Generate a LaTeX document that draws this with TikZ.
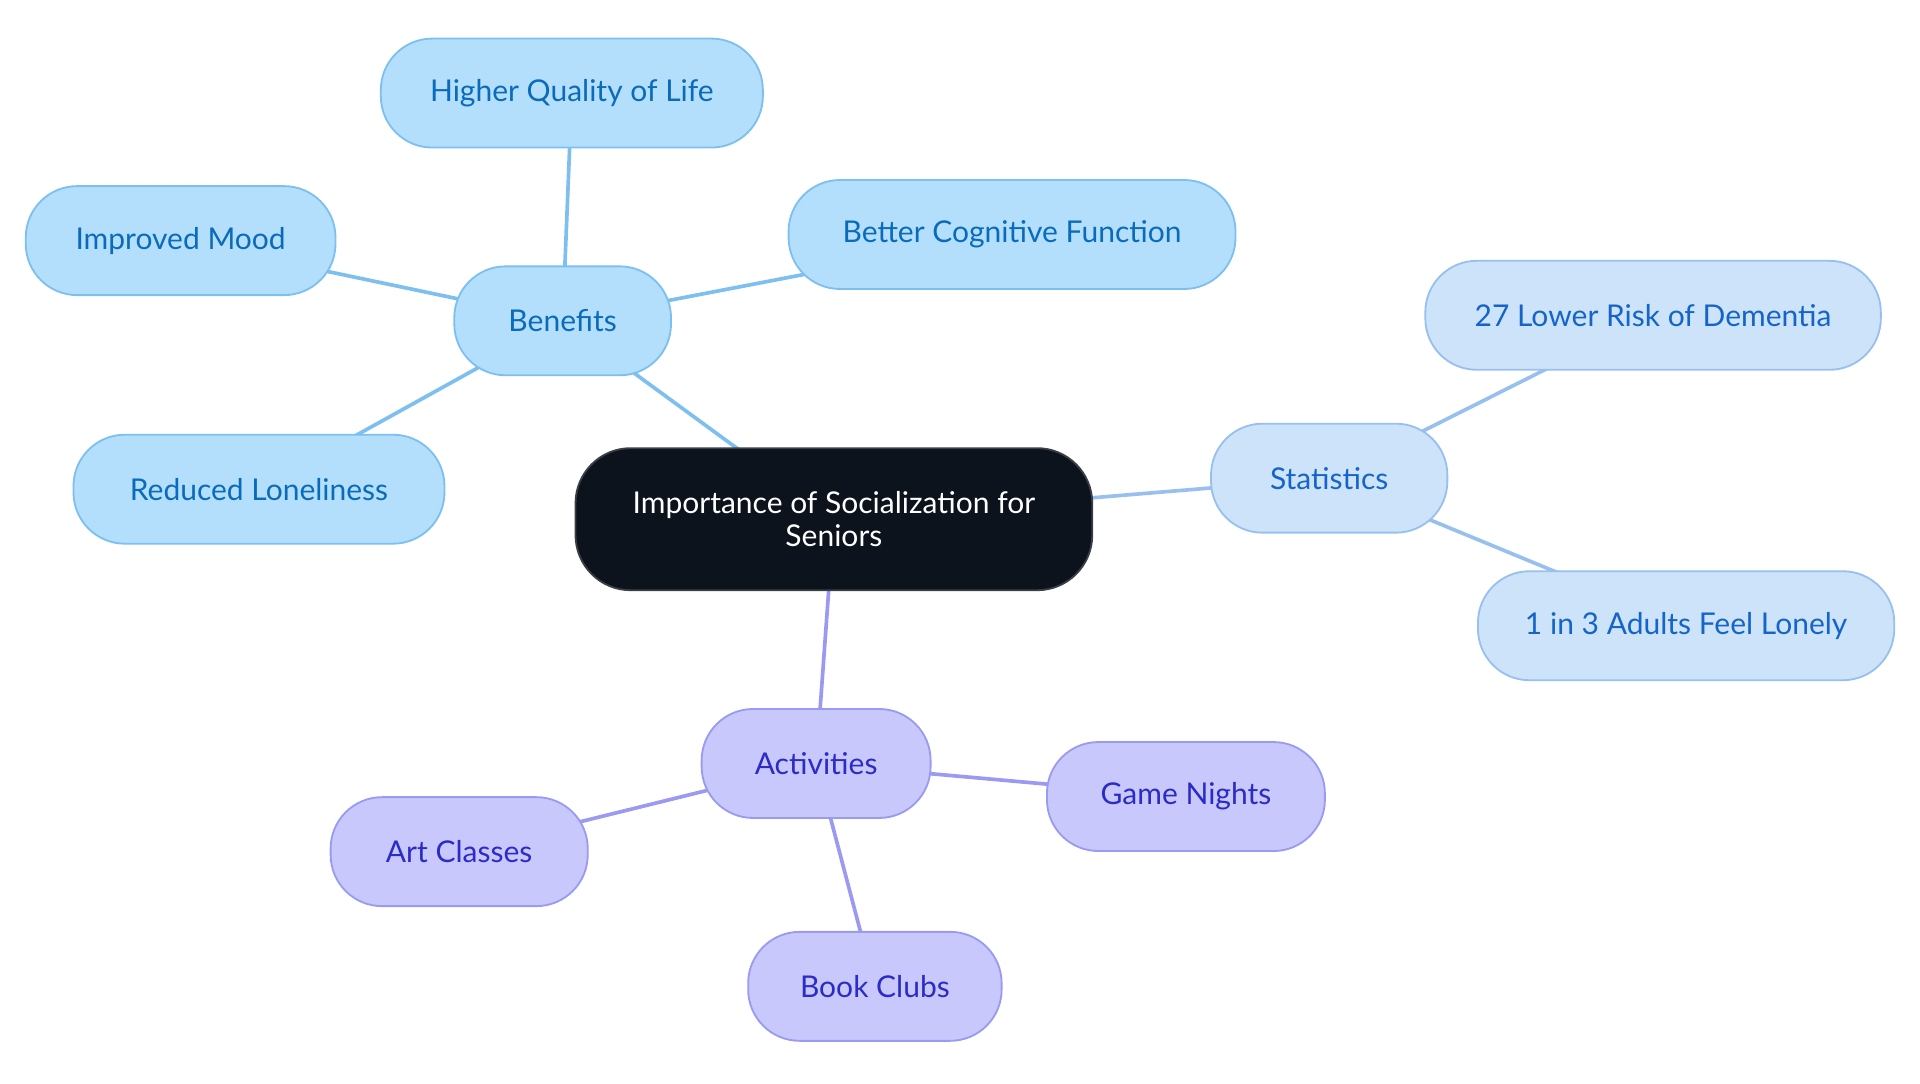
\documentclass[tikz,border=0pt]{standalone}
\usepackage{fontspec}
\setmainfont{Lato}
\usetikzlibrary{backgrounds}
\definecolor{rootfill}{HTML}{0D131C}
\definecolor{rootdraw}{HTML}{3A3F46}
\definecolor{bfill}{HTML}{B3DFFD}
\definecolor{bdraw}{HTML}{7DC0F0}
\definecolor{btext}{HTML}{0B6BBB}
\definecolor{sfill}{HTML}{CDE3FA}
\definecolor{sdraw}{HTML}{98C0EE}
\definecolor{stext}{HTML}{1565C9}
\definecolor{afill}{HTML}{C8C8FC}
\definecolor{adraw}{HTML}{9A9AF2}
\definecolor{atext}{HTML}{2B2BC8}
\tikzset{
  box/.style={rounded corners=42pt, line width=1.5pt, inner sep=0pt, align=center, minimum height=89pt,
    font=\fontsize{24.5}{27}\selectfont},
  rootnode/.style={box, fill=rootfill, draw=rootdraw, text=white, minimum height=116pt, rounded corners=45pt},
  bnode/.style={box, fill=bfill, draw=bdraw, text=btext},
  snode/.style={box, fill=sfill, draw=sdraw, text=stext},
  anode/.style={box, fill=afill, draw=adraw, text=atext},
  bedge/.style={draw=bdraw, line width=3pt},
  sedge/.style={draw=sdraw, line width=3pt},
  aedge/.style={draw=adraw, line width=3pt}
}
\begin{document}
\begin{tikzpicture}[x=1pt,y=-1pt]
\useasboundingbox (0,0) rectangle (1568,884.5);
\node[rootnode, minimum width=422pt] (root) at (681,424) {Importance of Socialization for\\Seniors};
\node[bnode, minimum width=177pt] (ben) at (459.5,262) {Benefits};
\node[bnode, minimum width=312pt] (hql) at (467,76) {Higher Quality of Life};
\node[bnode, minimum width=253pt] (mood) at (147.5,196.5) {Improved Mood};
\node[bnode, minimum width=365pt] (cog) at (826.5,191.5) {Better Cognitive Function};
\node[bnode, minimum width=303pt] (lone) at (211.5,399.5) {Reduced Loneliness};
\node[snode, minimum width=193pt] (stat) at (1085.5,390.5) {Statistics};
\node[snode, minimum width=372pt] (dem) at (1350,257.5) {27 Lower Risk of Dementia};
\node[snode, minimum width=340pt] (adult) at (1377,511) {1 in 3 Adults Feel Lonely};
\node[anode, minimum width=187pt] (act) at (666.5,623.5) {Activities};
\node[anode, minimum width=227pt] (game) at (968.5,650.5) {Game Nights};
\node[anode, minimum width=210pt] (art) at (375,695.5) {Art Classes};
\node[anode, minimum width=207pt] (book) at (714.5,805.5) {Book Clubs};
\begin{scope}[on background layer]
\draw[bedge] (root.center) -- (ben.center);
\draw[bedge] (ben.center) -- (hql.center);
\draw[bedge] (ben.center) -- (mood.center);
\draw[bedge] (ben.center) -- (cog.center);
\draw[bedge] (ben.center) -- (lone.center);
\draw[sedge] (root.center) -- (stat.center);
\draw[sedge] (stat.center) -- (dem.center);
\draw[sedge] (stat.center) -- (adult.center);
\draw[aedge] (root.center) -- (act.center);
\draw[aedge] (act.center) -- (game.center);
\draw[aedge] (act.center) -- (art.center);
\draw[aedge] (act.center) -- (book.center);
\end{scope}
\end{tikzpicture}
\end{document}
